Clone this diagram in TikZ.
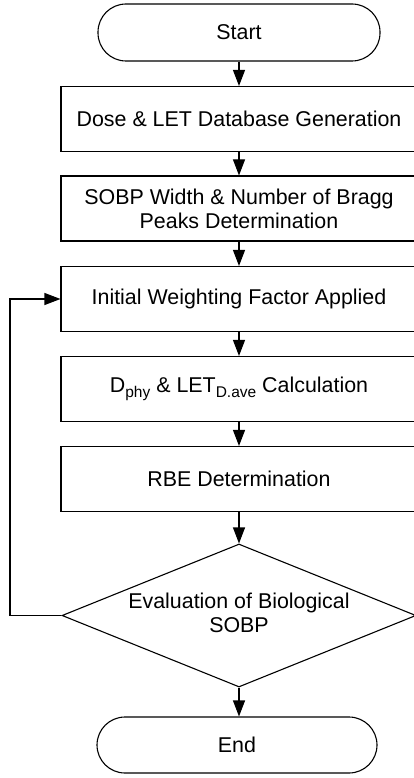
\documentclass[tikz,border=0pt]{standalone}
\usepackage{fontspec}
\setmainfont{Liberation Sans}
\usetikzlibrary{arrows.meta,shapes.geometric}

\newcommand{\lowsub}[1]{\raisebox{-0.45ex}{\fontsize{15.5}{15.5}\selectfont #1}}

\tikzset{
	terminal/.style={draw, rectangle, rounded corners=28pt, minimum width=282pt, minimum height=57pt, inner sep=0pt},
	process/.style={draw, rectangle, minimum width=356pt, minimum height=65pt, inner sep=0pt, align=center},
	decision/.style={draw, diamond, aspect=2.5, minimum width=354pt, minimum height=143pt, inner sep=0pt},
}

\begin{document}
\begin{tikzpicture}[x=1pt, y=-1pt, line width=1.1pt, >={Triangle[length=16pt,width=12pt]},
		font=\fontsize{21.4}{24}\selectfont]
		\useasboundingbox (0, 0) rectangle (414, 778);
		
		\node[terminal] (start) at (239, 32.5) {Start};
		\node[process] (dose) at (239, 119) {Dose \& LET Database Generation};
		\node[process] (sobp) at (239, 208.5) {SOBP Width \& Number of Bragg\\Peaks Determination};
		\node[process] (weight) at (239, 299) {Initial Weighting Factor Applied};
		\node[process] (calc) at (239, 389) {D\lowsub{phy} \& LET\lowsub{D.ave} Calculation};
		\node[process] (rbe) at (239, 479) {RBE Determination};
		\node[decision] (eval) at (239, 615.5) {\makebox[0pt]{\raisebox{-8pt}{\begin{tabular}{@{}c@{}}Evaluation of Biological\\SOBP\end{tabular}}}};
		\node[terminal, minimum width=280pt, minimum height=56pt] (end) at (237, 745) {End};
		\coordinate (back) at (10, 615.5);
		
		\path[->] (start) edge (dose);
		\path[->] (dose) edge (sobp);
		\path[->] (sobp) edge (weight);
		\path[->] (weight) edge (calc);
		\path[->] (calc) edge (rbe);
		\path[->] (rbe) edge (eval);
		\path[->] (eval.south) edge (end.north -| eval.south);
		\path[draw, ->] (eval.west) -- (back) |- (weight.west);
	\end{tikzpicture}
\end{document}
